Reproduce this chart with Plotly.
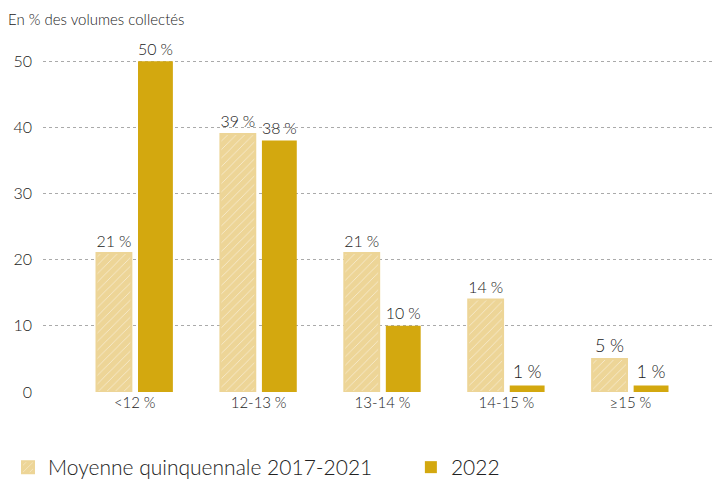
import plotly.graph_objects as go

categories = ["<12\u202f%", "12-13\u202f%", "13-14\u202f%", "14-15\u202f%", "\u226515\u202f%"]
moyenne = [21, 39, 21, 14, 5]
y2022 = [50, 38, 10, 1, 1]
series_names = ["Moyenne quinquennale 2017-2021", "2022"]
yticks = [0, 10, 20, 30, 40, 50]

BEIGE = "#EDD597"
GOLD = "#D3A80F"
FONT = "Lato"
TXT = "#222222"

fig = go.Figure()
fig.add_trace(go.Bar(
    x=categories, y=moyenne, name=series_names[0],
    text=[f"{v}\u202f%" for v in moyenne], textposition="outside",
    textfont=dict(size=18, color=TXT, family=FONT, weight=300),
    marker=dict(color=BEIGE, line=dict(color=BEIGE, width=2),
                pattern=dict(shape="/", fgcolor="white", bgcolor=BEIGE, size=6, solidity=0.15)),
    cliponaxis=False, legend="legend", showlegend=True,
))
fig.add_trace(go.Bar(
    x=categories, y=y2022, name=series_names[1],
    text=[f"{v}\u202f%" for v in y2022], textposition="outside",
    textfont=dict(size=18, color=TXT, family=FONT, weight=300),
    marker=dict(color=GOLD, line=dict(width=0)),
    cliponaxis=False, legend="legend2", showlegend=True,
))

legend_common = dict(orientation="h", xref="container", yref="container", y=0.0,
                     xanchor="left", yanchor="bottom", visible=True,
                     font=dict(size=21, color=TXT, family=FONT, weight=300),
                     itemwidth=30)

fig.update_layout(
    width=722, height=480, showlegend=True,
    margin=dict(l=35, r=8, t=40, b=96, autoexpand=False),
    paper_bgcolor="white", plot_bgcolor="white",
    barmode="group", bargap=0.33, bargroupgap=0.16,
    font=dict(family=FONT, color=TXT, weight=300),
    title=dict(text="En % des volumes collectés", x=0.0, xanchor="left",
               xref="container", y=0.975, yanchor="middle", yref="container",
               pad=dict(l=0),
               font=dict(size=15, color=TXT, family=FONT, weight=300)),
    xaxis=dict(range=[-0.74, 4.74], showgrid=False, zeroline=False, showline=False,
               ticks="", automargin=False,
               tickfont=dict(size=15, color=TXT, family=FONT, weight=300)),
    yaxis=dict(range=[0, 52], tickvals=yticks, showgrid=True, gridcolor="#aaaaaa",
               griddash="dot", gridwidth=1, zeroline=False, showline=False,
               ticks="", automargin=False,
               tickfont=dict(size=16, color=TXT, family=FONT, weight=300), ticklabelstandoff=10),
    legend=dict(legend_common, x=0.0),
    legend2=dict(legend_common, x=0.558),
)

fig.write_html("out.html")
